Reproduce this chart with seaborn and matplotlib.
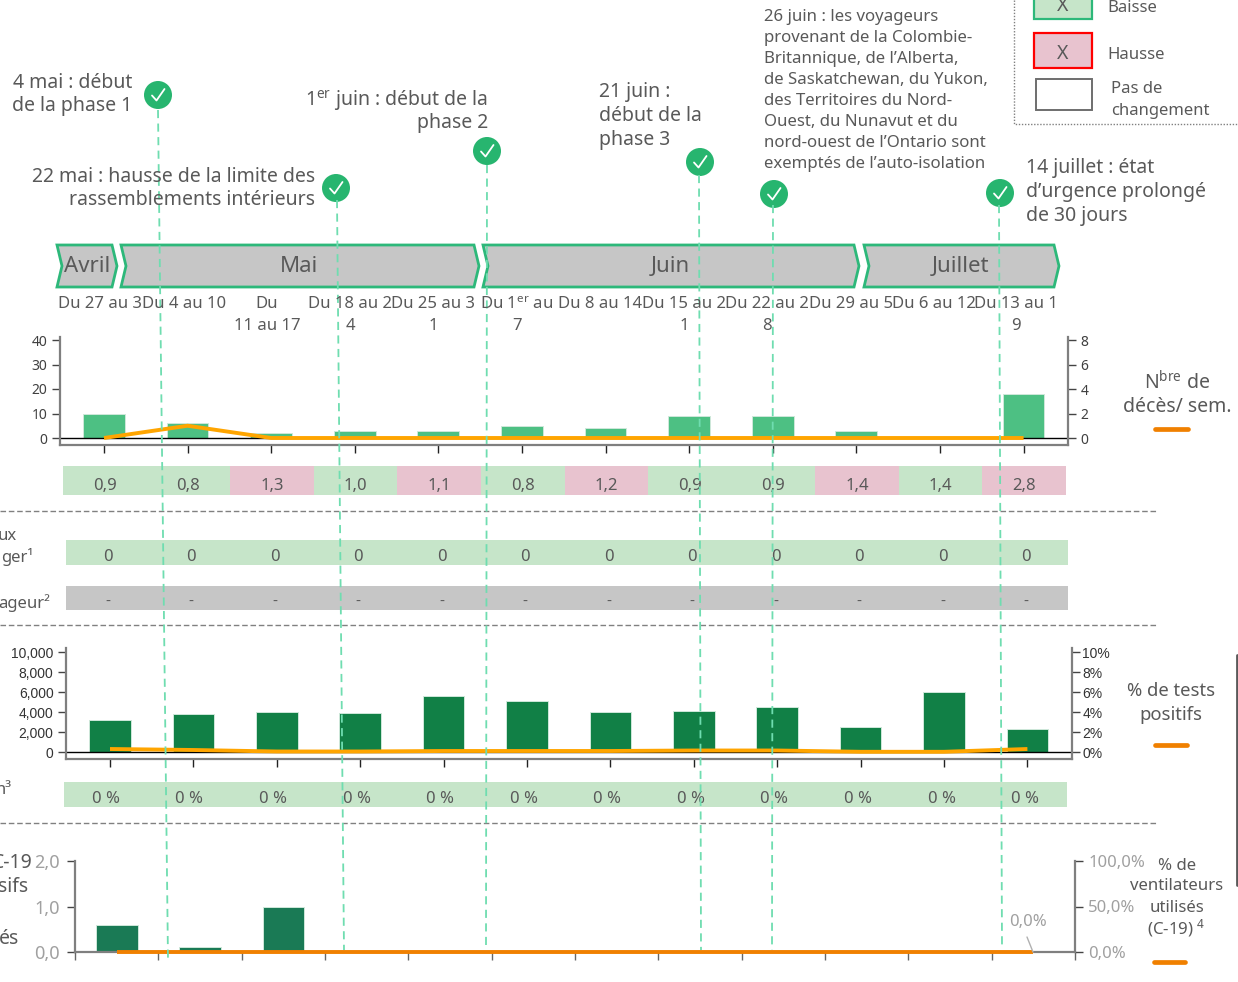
import numpy as np
import pandas as pd
import matplotlib
matplotlib.use("Agg")
import matplotlib.pyplot as plt
from matplotlib.colors import ListedColormap
from matplotlib.patches import Polygon, Rectangle, Circle
import seaborn as sns

sns.set_theme(style="white")
FONT = "Noto Sans"
plt.rcParams["font.family"] = [FONT, "DejaVu Sans"]
plt.rcParams["mathtext.fontset"] = "custom"
plt.rcParams["mathtext.rm"] = FONT
plt.rcParams["mathtext.default"] = "rm"

W, H = 1238, 982
TXT = "#595959"
weeks = ["Du 27 au 3", "Du 4 au 10", "Du\n11 au 17", "Du 18 au 2\n4", "Du 25 au 3\n1",
         "Du 1$^{er}$ au\n7", "Du 8 au 14", "Du 15 au 2\n1", "Du 22 au 2\n8",
         "Du 29 au 5", "Du 6 au 12", "Du 13 au 1\n9"]
week_keys = [f"s{i}" for i in range(12)]
deaths = [10, 6, 2, 3, 3, 5, 4, 9, 9, 3, 0, 18]
deaths_line = [0, 1, 0, 0, 0, 0, 0, 0, 0, 0, 0, 0]
rt_labels = ["0,9", "0,8", "1,3", "1,0", "1,1", "0,8", "1,2", "0,9", "0,9", "1,4", "1,4", "2,8"]
rt_trend = [0, 0, 1, 0, 1, 0, 1, 0, 0, 1, 0, 1]
row2_labels = ["0"] * 12
row3_labels = ["-"] * 12
row4_labels = ["0 %"] * 12
tests = [3200, 3800, 4000, 3900, 5600, 5100, 4000, 4100, 4500, 2500, 6000, 2300]
positivity = [0.3, 0.2, 0.05, 0.05, 0.1, 0.1, 0.1, 0.15, 0.15, 0.02, 0.02, 0.3]
icu = [0.6, 0.1, 1.0, 0, 0, 0, 0, 0, 0, 0, 0, 0]
vent = [0] * 12
months = ["Avril", "Mai", "Juin", "Juillet"]

fig = plt.figure(figsize=(W / 100, H / 100), dpi=100, facecolor="white")


def ax_px(l, r, t, b, **kw):
    return fig.add_axes([l / W, 1 - b / H, (r - l) / W, (b - t) / H], **kw)


def style_chart(ax, right_ax, left_ticks, left_labels, right_ticks, right_labels, lsize, color, fam,
                spine="#7F7F7F", rsize=None, lpad=3, rpad=3):
    for a in (ax, right_ax):
        a.set_xlabel("")
        a.set_ylabel("")
        a.patch.set_visible(False)
        for s in a.spines.values():
            s.set_visible(False)
    ax.spines["left"].set_visible(True)
    ax.spines["bottom"].set_visible(True)
    right_ax.spines["right"].set_visible(True)
    for s in (ax.spines["left"], ax.spines["bottom"], right_ax.spines["right"]):
        s.set_color(spine)
        s.set_linewidth(1.6)
    ax.set_yticks(left_ticks, left_labels, fontsize=lsize, color=color, family=fam)
    right_ax.set_yticks(right_ticks, right_labels, fontsize=rsize or lsize, color=color, family=fam)
    ax.tick_params(axis="y", left=True, length=6, width=1, color="#444444", pad=lpad)
    right_ax.tick_params(axis="y", right=True, left=False, length=6, width=1, color="#444444", pad=rpad)
    ax.tick_params(axis="x", bottom=True, length=6, width=1, color="#222222", labelbottom=False)


def chart(l, r, t, b, y0, px_per_unit, cx0, step, bars, line, bar_color, line_color, ratio):
    ax = ax_px(l, r, t, b)
    df = pd.DataFrame({"week": week_keys, "v": bars, "s": line})
    sns.barplot(data=df, x="week", y="v", color=bar_color, saturation=1, width=0.5, ax=ax,
                edgecolor="#CFE8DA", linewidth=0.7)
    ax.set_xlim((l - cx0) / step, (r - cx0) / step)
    ylim = (-(b - y0) / px_per_unit, (y0 - t) / px_per_unit)
    ax.set_ylim(*ylim)
    ax2 = ax.twinx()
    sns.lineplot(data=df, x="week", y="s", color=line_color, lw=2.8, ax=ax2, clip_on=False,
                 solid_capstyle="butt", errorbar=None)
    ax2.set_ylim(ylim[0] * ratio, ylim[1] * ratio)
    return ax, ax2


# Chart 1: deaths
ax1, ax1b = chart(60, 1068, 337, 445, 438, 2.45, 104, 83.6, deaths, deaths_line, "#4DC083", "#FFA500", 0.2)
style_chart(ax1, ax1b, [0, 10, 20, 30, 40], ["0", "10", "20", "30", "40"], [0, 2, 4, 6, 8], list("02468"), 10, "#404040", FONT)
ax1.axhline(0, color="black", lw=1, zorder=1)
ax1.set_xticks(range(12))

# Chart 2: tests
ax2, ax2b = chart(66, 1072, 648, 759, 752, 0.01, 110, 83.4, tests, positivity, "#118046", "#FFA500", 0.001)
style_chart(ax2, ax2b, [0, 2000, 4000, 6000, 8000, 10000], ["0", "2,000", "4,000", "6,000", "8,000", "10,000"],
            [0, 2, 4, 6, 8, 10], ["0%", "2%", "4%", "6%", "8%", "10%"], 10, "#333333", "Liberation Sans", rpad=1.5)
ax2.axhline(0, color="black", lw=1, zorder=1)
ax2.set_xticks(range(12))

# Chart 3: intensive care / ventilators
ax3, ax3b = chart(75, 1075, 861, 952, 952, 45.5, 116.7, 83.33, icu, vent, "#1A7A55", "#F08000", 50)
style_chart(ax3, ax3b, [0, 1, 2], ["0,0", "1,0", "2,0"], [0, 50, 100], ["0,0%", "50,0%", "100,0%"], 13, "#A0A0A0", FONT,
            rsize=12, lpad=5, rpad=3.5)
ax3.set_xticks(np.arange(-0.5, 12, 1))
ax3.set_ylim(0, 2)
ax3b.set_ylim(0, 100)
ax3.tick_params(axis="x", color="#666666")

# Heat rows
heat_cmap = ListedColormap(["#C6E5C9", "#E8C3CF", "#C6C6C6"])


def heat_row(l, r, t, b, codes, labels, size=11):
    ax = ax_px(l, r, t, b)
    sns.heatmap(np.array([codes]), annot=np.array([labels]), fmt="", cmap=heat_cmap, vmin=0, vmax=2, cbar=False,
                ax=ax, annot_kws={"color": TXT, "fontsize": size, "va": "center"})
    ax.set_xticks([])
    ax.set_yticks([])
    for t_ in ax.texts:
        x_, y_ = t_.get_position()
        t_.set_position((x_, y_ + 0.18))


heat_row(63, 1066, 466, 495, rt_trend, rt_labels, 12)
heat_row(66, 1068, 540, 565, [0] * 12, row2_labels, 12)
heat_row(66, 1068, 586, 610, [2] * 12, row3_labels, 11)
heat_row(64, 1067, 782, 807, [0] * 12, row4_labels, 12)

# Overlay in pixel coordinates
ov = fig.add_axes([0, 0, 1, 1], zorder=10)
ov.set_xlim(0, W)
ov.set_ylim(H, 0)
ov.axis("off")
ov.patch.set_visible(False)


def T(x, y, s, size=12.5, ha="left", va="center", color=TXT, **kw):
    return ov.text(x, y + 1.5, s, fontsize=size, ha=ha, va=va, color=color, clip_on=True, **kw)


# separators
for y_ in (511, 625, 823):
    ov.plot([0, 1158], [y_, y_], color="#808080", lw=1, ls=(0, (4, 2)))
ov.plot([1237, 1237], [655, 885], color="#595959", lw=2)

# month chevrons
month_spans = [(57, 117), (121, 479), (483, 859), (864, 1059)]
for name, (a, b) in zip(months, month_spans):
    pts = [(a, 245), (b - 5, 245), (b, 266), (b - 5, 287), (a, 287), (a + 5, 266)]
    ov.add_patch(Polygon(pts, closed=True, fc="#C6C6C6", ec="#2DB87A", lw=2))
    T((a + b) / 2 - 1 + (1 if name == "Avril" else 0), 265, name, size=16, ha="center")

# week labels
week_cx = [100, 184, 267, 350, 433, 517, 600, 684, 767, 851, 934, 1016]
for cx, w in zip(week_cx, weeks):
    T(cx, 303, w.split("\n")[0], size=12, ha="center")
    if "\n" in w:
        T(cx, 324, w.split("\n")[1], size=12, ha="center")

# event lines and markers
vlines = [((158, 110), (168, 960)), ((337, 200), (344, 950)), ((487, 165), (486, 945)),
          ((699, 175), (701, 950)), ((773, 205), (772, 950)), ((999, 205), (1002, 945))]
for (p, q) in vlines:
    ov.plot([p[0], q[0]], [p[1], q[1]], color="#6FDDB0", lw=1.3, ls=(0, (4.5, 3)))
for (cx, cy) in [(158, 95), (336, 188), (487, 151), (700, 162), (774, 194), (1000, 193)]:
    ov.add_patch(Circle((cx, cy), 14, fc="#27B56F", ec="none"))
    ov.plot([cx - 6, cx - 1.5, cx + 6.5], [cy + 0.5, cy + 5.5, cy - 6], color="white", lw=1.3)

# event notes
T(132, 81, "4 mai : début", 14, ha="right")
T(132, 104, "de la phase 1", 14, ha="right")
T(488, 99, "1$^{er}$ juin : début de la", 14, ha="right")
T(488, 121, "phase 2", 14, ha="right")
T(315, 175, "22 mai : hausse de la limite des", 14, ha="right")
T(315, 198, "rassemblements intérieurs", 14, ha="right")
for y_, s in zip((90, 114, 138), ("21 juin :", "début de la", "phase 3")):
    T(599, y_, s, 14)
june = ["26 juin : les voyageurs", "provenant de la Colombie-", "Britannique, de l\u2019Alberta,",
        "de Saskatchewan, du Yukon,", "des Territoires du Nord-", "Ouest, du Nunavut et du",
        "nord-ouest de l\u2019Ontario sont", "exemptés de l\u2019auto-isolation"]
for i, s in enumerate(june):
    T(764, 15 + 21 * i, s, 12.1)
for y_, s in zip((166, 190, 214), ("14 juillet : état", "d\u2019urgence prolongé", "de 30 jours")):
    T(1026, y_, s, 14)

# legend
ov.plot([1014, 1014, 1238], [0, 124, 124], color="#808080", lw=1, ls=(0, (1, 1.2)))
ov.add_patch(Rectangle((1034, -10), 58, 29, fc="#C6E5C9", ec="#2DB87A", lw=1.6))
ov.add_patch(Rectangle((1034, 33), 58, 35, fc="#E8C3CF", ec="#FF0000", lw=1.6))
ov.add_patch(Rectangle((1036, 79), 56, 31, fc="white", ec="#6E6E6E", lw=1.4))
T(1063, 4, "X", 14, ha="center")
T(1063, 52, "X", 14, ha="center")
T(1107, 6, "Baisse", 12)
T(1107, 53, "Hausse", 12)
T(1111, 87, "Pas de", 12)
T(1111, 109, "changement", 12)

# left clipped labels
T(17, 534, "ux", 12, ha="right")
T(33, 555, "ger\u00b9", 12, ha="right")
T(50, 602, "ageur\u00b2", 12, ha="right")
T(12, 789, "n\u00b3", 12, ha="right")
T(33, 861, "C-19", 14, ha="right")
T(28, 885, "sifs", 14, ha="right")
T(19, 938, "és", 14, ha="right")

# right legends
T(1177, 381, "N$^{bre}$ de", 14, ha="center")
T(1177, 406, "décès/ sem.", 14, ha="center")
T(1171, 689, "% de tests", 13.3, ha="center")
T(1171, 713, "positifs", 13.3, ha="center")
for y_, s in zip((864, 885, 906), ("% de", "ventilateurs", "utilisés")):
    T(1177, y_, s, 12.1, ha="center")
T(1176, 927, "(C-19) $^{4}$", 12.1, ha="center")
for x0, x1, y_ in [(1155, 1188, 429), (1155, 1187, 745), (1154, 1185, 962)]:
    ov.plot([x0, x1], [y_, y_], color="#F08000", lw=3.4, solid_capstyle="round")

# ventilator data label
T(1028, 921, "0,0%", 12, ha="center", color="#A0A0A0")
ov.plot([1027, 1033], [937, 952], color="#B0B0B0", lw=1)

fig.savefig("out.png", dpi=100)
